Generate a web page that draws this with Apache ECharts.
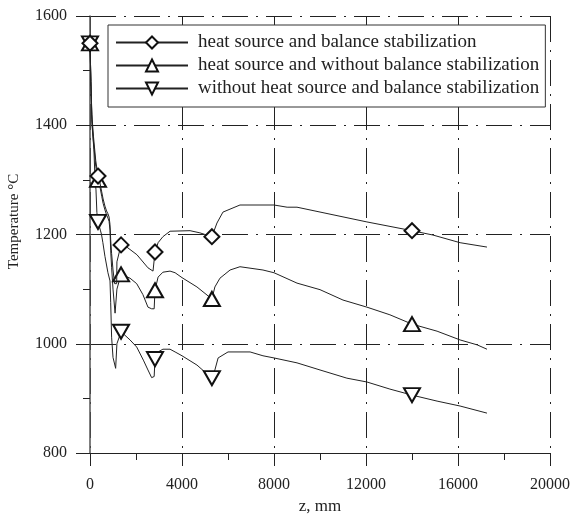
<!DOCTYPE html>
<html><head><meta charset="utf-8">
<script src="https://cdn.jsdelivr.net/npm/echarts@6/dist/echarts.min.js"></script>
<style>html,body{margin:0;padding:0;background:#fff}#c{width:570px;height:514px}</style>
</head><body><div id="c"></div>
<script>
const seriesNames = [
  'heat source and balance stabilization',
  'heat source and without balance stabilization',
  'without heat source and balance stabilization'
];
const curveDiamond = [[0,1550],[40,1480],[80,1420],[150,1380],[250,1335],[348,1307],[430,1295],[510,1278],[570,1265],[650,1252],[720,1243],[780,1238],[830,1232],[870,1218],[900,1190],[940,1165],[1000,1135],[1070,1110],[1160,1110],[1170,1150],[1350,1181],[1600,1177],[2040,1163],[2520,1139],[2740,1133],[2790,1133],[2826,1168],[2960,1185],[3170,1196],[3480,1206],[4350,1207],[4780,1203],[5300,1196],[5520,1221],[5780,1241],[6520,1254],[8000,1254],[8570,1250],[9000,1250],[12040,1223],[14000,1207],[14910,1199],[16090,1185],[17260,1177]];
const curveUp = [[0,1550],[40,1480],[80,1410],[150,1370],[250,1325],[348,1300],[430,1288],[510,1270],[570,1257],[650,1245],[720,1236],[780,1230],[830,1224],[870,1208],[900,1170],[940,1140],[1000,1100],[1090,1056],[1170,1100],[1350,1127],[1740,1120],[2030,1110],[2300,1090],[2520,1067],[2680,1064],[2790,1064],[2826,1098],[2960,1122],[3170,1131],[3480,1133],[3700,1130],[4000,1121],[4650,1104],[5300,1082],[5430,1104],[5650,1120],[6090,1135],[6520,1141],[7520,1135],[8000,1130],[9000,1111],[10000,1099],[11000,1080],[12040,1067],[13040,1053],[14000,1036],[15090,1023],[16090,1007],[16830,998],[17260,990]];
const curveDown = [[0,1550],[40,1480],[90,1400],[170,1355],[220,1300],[260,1282],[300,1240],[348,1223],[450,1208],[500,1200],[560,1185],[650,1160],[780,1130],[870,1115],[900,1075],[940,1012],[1000,975],[1115,955],[1170,1000],[1350,1022],[1740,1007],[2030,994],[2320,970],[2520,952],[2680,938],[2790,940],[2826,972],[2960,985],[3170,990],[3480,990],[3700,985],[4000,978],[4650,961],[5300,937],[5430,952],[5570,974],[6000,985],[6960,985],[7520,978],[8000,974],[9000,965],[10000,952],[11170,937],[12040,930],[13040,917],[14000,906],[15090,895],[16090,886],[17260,873]];
const markerZ = [0, 348, 1350, 2826, 5300, 14000];
const xTicks = [0, 4000, 8000, 12000, 16000, 20000];
const yTicks = [800, 1000, 1200, 1400, 1600];

const FONT = "'Liberation Serif','Times New Roman',serif";
const symbols = ['diamond', 'triangle', 'path://M0,0L10,0L5,9Z'];
const symSizes = [15, [16,14], [16,14]];
const curves = [curveDiamond, curveUp, curveDown];

function buildData(curve) {
  return curve.map(p => markerZ.includes(p[0]) ? {value: p} : {value: p, symbol: 'none'});
}
const gridLine = {show: true, lineStyle: {color: '#222', width: 1, type: [26, 8, 2, 8]}};
const plain = v => String(v);

const chart = echarts.init(document.getElementById('c'), null, {renderer: 'canvas'});
chart.setOption({
  animation: false,
  backgroundColor: '#fff',
  textStyle: {fontFamily: FONT},
  grid: {left: 90, right: 20, top: 16, bottom: 61, containLabel: false, outerBoundsMode: 'none'},
  legend: {
    orient: 'vertical', left: 108, top: 25,
    data: seriesNames,
    itemWidth: 72, itemHeight: 15, itemGap: 4,
    padding: [8, 6, 9, 7],
    borderColor: '#333', borderWidth: 1, backgroundColor: '#fff',
    textStyle: {fontFamily: FONT, fontSize: 19, color: '#222', padding: [0, 0, 0, 5]}
  },
  xAxis: {
    type: 'value', min: xTicks[0], max: xTicks[xTicks.length-1], interval: 4000,
    name: 'z, mm', nameLocation: 'middle', nameGap: 34,
    nameTextStyle: {fontFamily: FONT, fontSize: 17, color: '#222'},
    axisLine: {show: true, lineStyle: {color: '#222', width: 1}},
    axisTick: {show: true, inside: false, length: 13, lineStyle: {color: '#222'}},
    minorTick: {show: true, splitNumber: 2, length: 7, lineStyle: {color: '#222'}},
    axisLabel: {fontFamily: FONT, fontSize: 16, color: '#222', margin: 24, formatter: plain},
    splitLine: gridLine
  },
  yAxis: {
    type: 'value', min: yTicks[0], max: yTicks[yTicks.length-1], interval: 200,
    name: 'Temperature °C', nameLocation: 'middle', nameGap: 68, nameRotate: 90,
    nameTextStyle: {fontFamily: FONT, fontSize: 15, color: '#222', padding: [0, 0, 0, 26]},
    axisLine: {show: true, lineStyle: {color: '#555', width: 1.5}},
    axisTick: {show: true, inside: false, length: 14, lineStyle: {color: '#222'}},
    minorTick: {show: true, splitNumber: 2, length: 7, lineStyle: {color: '#222'}},
    axisLabel: {fontFamily: FONT, fontSize: 16, color: '#222', margin: 23, formatter: plain},
    splitLine: gridLine
  },
  series: curves.map((c, i) => ({
    name: seriesNames[i], type: 'line',
    data: buildData(c),
    symbol: symbols[i], symbolSize: symSizes[i],
    showSymbol: true, showAllSymbol: true,
    lineStyle: {color: '#222', width: 1},
    itemStyle: {color: '#fff', borderColor: '#111', borderWidth: 2},
    z: 3 - i
  }))
});
</script></body></html>
